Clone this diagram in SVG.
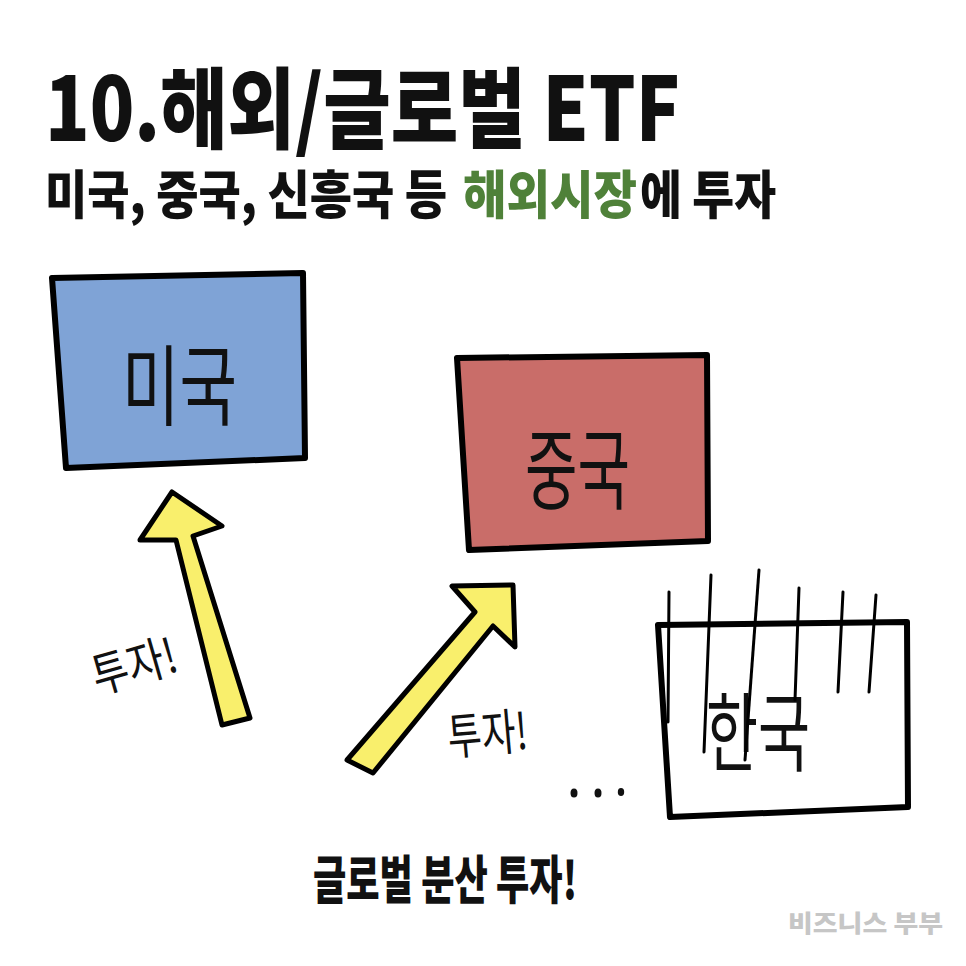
<svg xmlns="http://www.w3.org/2000/svg" width="966" height="966" viewBox="0 0 966 966">
<style>
.h{font-family:"Noto Sans CJK KR","Noto Sans",sans-serif;font-weight:900;fill:#111}
.hand{font-family:"Noto Sans CJK KR",sans-serif;font-weight:400;fill:#111}
.box{stroke:#000;stroke-width:6;stroke-linejoin:round}
.arrow{fill:#f9ef6c;stroke:#000;stroke-width:5;stroke-linejoin:round}
.bar{stroke:#000;stroke-width:3;stroke-linecap:round;fill:none}
</style>
<rect width="966" height="966" fill="#fff"/>
<text class="h" x="45" y="141" font-size="88" textLength="635" lengthAdjust="spacingAndGlyphs">10.해외/글로벌 ETF</text>
<text class="h" x="45" y="214" font-size="52" textLength="402" lengthAdjust="spacingAndGlyphs">미국, 중국, 신흥국 등</text>
<text class="h" x="463" y="214" font-size="52" textLength="174" lengthAdjust="spacingAndGlyphs" style="fill:#4f8139">해외시장</text>
<text class="h" x="640" y="214" font-size="52" textLength="136" lengthAdjust="spacingAndGlyphs">에 투자</text>
<g id="usa">
<path class="box" d="M52,278 L303,273 L305,458 L66,468 Z" fill="#7fa3d6"/>
<text class="hand" x="122" y="418" font-size="88" textLength="115" lengthAdjust="spacingAndGlyphs">미국</text>
</g>
<g id="china">
<path class="box" d="M457,358 L707,355 L708,541 L469,550 Z" fill="#c96d69"/>
<text class="hand" x="525" y="502" font-size="88" textLength="105" lengthAdjust="spacingAndGlyphs">중국</text>
</g>
<g id="korea">
<path class="box" d="M658,625 L907,622 L908,807 L670,817 Z" fill="#fff"/>
<text class="hand" x="706" y="765" font-size="86" textLength="104" lengthAdjust="spacingAndGlyphs">한국</text>
<line class="bar" x1="669" y1="592" x2="668" y2="722"/>
<line class="bar" x1="711" y1="575" x2="704" y2="752"/>
<line class="bar" x1="759" y1="570" x2="745" y2="760"/>
<line class="bar" x1="799" y1="588" x2="795" y2="700"/>
<line class="bar" x1="843" y1="592" x2="838" y2="692"/>
<line class="bar" x1="876" y1="595" x2="869" y2="692"/>
</g>
<g id="connectors">
<path class="arrow" d="M172,492 L222,526 L193,536 L250,718 L222,725 L176,540 L140,540 Z"/>
<path class="arrow" d="M513,585 L515,647 L493,626 L373,773 L347,760 L475,612 L452,586 Z"/>
</g>
<text class="hand" x="90" y="684" font-size="48" textLength="86" lengthAdjust="spacingAndGlyphs" transform="rotate(-16 130 662)">투자!</text>
<text class="hand" x="447" y="752" font-size="50" textLength="80" lengthAdjust="spacingAndGlyphs" transform="rotate(-5 486 728)">투자!</text>
<g fill="#111">
<ellipse cx="574" cy="793" rx="3.5" ry="4.5"/>
<ellipse cx="598" cy="793" rx="3.5" ry="4.5"/>
<ellipse cx="621" cy="792" rx="3.2" ry="4"/>
</g>
<text class="h" x="313" y="899" font-size="52" textLength="264" lengthAdjust="spacingAndGlyphs">글로벌 분산 투자!</text>
<text class="h" x="788" y="932" font-size="24" style="fill:#c6c6c6" textLength="155" lengthAdjust="spacingAndGlyphs">비즈니스 부부</text>
</svg>
